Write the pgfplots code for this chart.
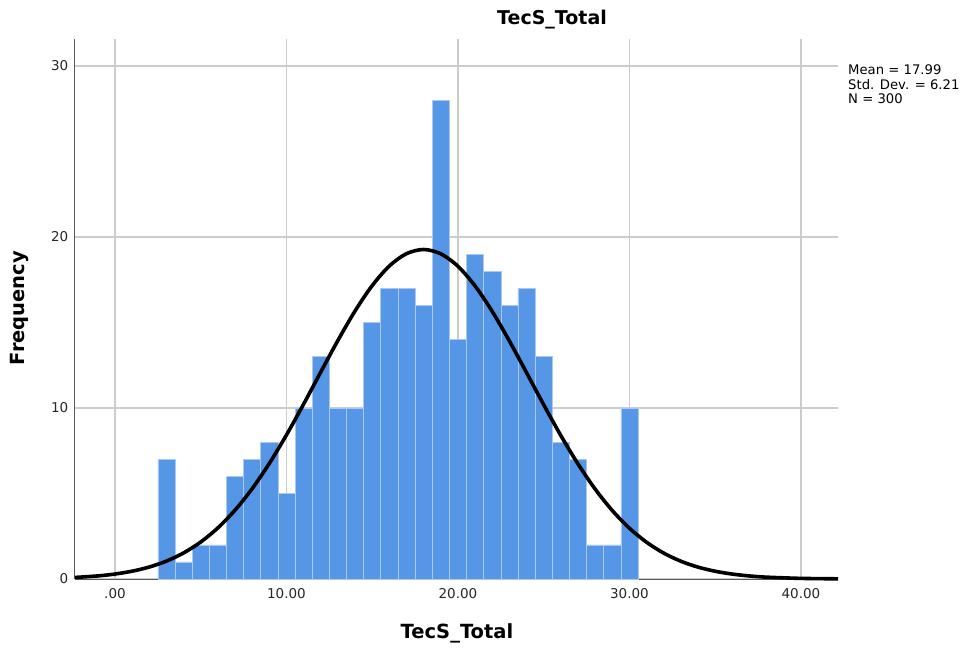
\documentclass[border=0pt]{standalone}
\usepackage{pgfplots}
\pgfplotsset{compat=1.18}
\usepackage{fontspec}
\setmainfont{DejaVu Sans}
\definecolor{barblue}{RGB}{85,150,230}
\definecolor{baredge}{RGB}{170,200,240}
\begin{document}
\begin{tikzpicture}[x=1pt,y=1pt]
\useasboundingbox (-75,-71) rectangle (890,579);
\begin{axis}[
  at={(0,0)}, anchor=south west, scale only axis,
  width=763pt, height=540pt,
  xmin=-2.33, xmax=42.16, ymin=0, ymax=31.58,
  axis x line=bottom, axis y line=left,
  axis line style={-, draw=black!65, line width=1pt},
  xtick={0,10,20,30,40}, xticklabels={.00,10.00,20.00,30.00,40.00},
  ytick={0,10,20,30}, yticklabels={0,10,20,30},
  /pgf/number format/assume math mode=true,
  tick style={draw=none},
  grid=major, major grid style={draw=black!20, line width=1.2pt},
  ticklabel style={font=\fontsize{13.5}{15}\selectfont, text=black!85},
  xticklabel style={yshift=-4pt},
  yticklabel style={xshift=-1pt},
  clip=false,
]
\addplot[ybar, bar width=1, fill=barblue, draw=baredge, line width=0.6pt] coordinates {
(3,7) (4,1) (5,2) (6,2) (7,6) (8,7) (9,8) (10,5) (11,10) (12,13)
(13,10) (14,10) (15,15) (16,17) (17,17) (18,16) (19,28) (20,14) (21,19) (22,18)
(23,16) (24,17) (25,13) (26,8) (27,7) (28,2) (29,2) (30,10)
};
\addplot[black, line width=3.6pt, smooth, no marks] coordinates {
(-2.33,0.091) (-1,0.180) (0,0.290) (1,0.457) (2,0.700) (3,1.046) (4,1.523) (5,2.162)
(6,2.989) (7,4.025) (8,5.283) (9,6.758) (10,8.422) (11,10.227) (12,12.102)
(13,13.953) (14,15.676) (15,17.161) (16,18.306) (17,19.027) (18,19.270)
(19,19.017) (20,18.287) (21,17.134) (22,15.644) (23,13.917) (24,12.064)
(25,10.190) (26,8.387) (27,6.726) (28,5.256) (29,4.002) (30,2.969)
(31,2.147) (32,1.512) (33,1.038) (34,0.694) (35,0.453) (36,0.287)
(37,0.178) (38,0.107) (40,0.036) (42.16,0.010)
};
\end{axis}
\node[font=\bfseries\fontsize{19}{21}\selectfont] at (477,559) {TecS\_Total};
\node[font=\bfseries\fontsize{19.5}{21}\selectfont] at (382,-54) {TecS\_Total};
\node[font=\bfseries\fontsize{19.5}{21}\selectfont, rotate=90] at (-56,271) {Frequency};
\node[anchor=north west, align=left, inner sep=0pt,
      font=\fontsize{13.2}{14.5}\selectfont] at (773,514)
  {Mean = 17.99\\Std. Dev. = 6.21\\N = 300};
\end{tikzpicture}
\end{document}
